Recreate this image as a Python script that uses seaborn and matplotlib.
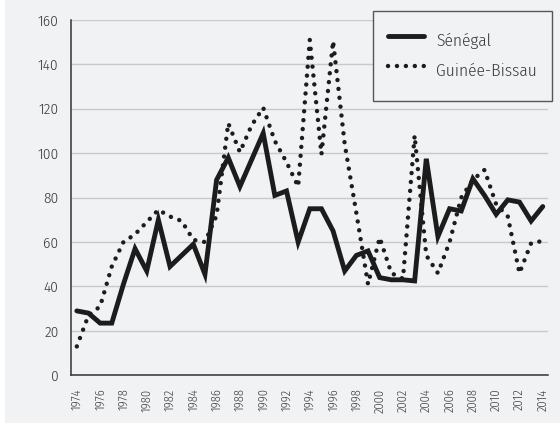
import matplotlib
matplotlib.use("Agg")
import matplotlib.pyplot as plt
import matplotlib.patches as mpatches
import seaborn as sns
import numpy as np

years = list(range(1974, 2015))
senegal = [29, 28, 23.5, 23.5, 41, 57, 47, 70, 49, 54, 59, 45.5, 88, 98, 85, 97,
           109, 81, 83, 60, 75, 75, 65, 47, 54, 56, 44, 43, 43, 42.5, 97.5, 62.5,
           75, 74, 88.5, 81, 72.5, 79, 78, 69.5, 76]
guinee_bissau = [13, 27, 31, 49, 60, 63.5, 69, 74.5, 71.5, 69.5, 61, 60, 72, 113.5,
                 100.5, 112.5, 120.5, 105.5, 96, 85, 151, 99.5, 150.5, 104, 73, 41,
                 62, 46, 43.5, 108, 54, 46, 60, 80, 88, 92.5, 77, 71.5, 46, 59.5, 60.5]
series_names = ["Sénégal", "Guinée-Bissau"]
y_ticks = [0, 20, 40, 60, 80, 100, 120, 140, 160]
x_label_years = list(range(1974, 2015, 2))

sns.set_style("white")
plt.rcParams['font.family'] = ['Fira Sans Condensed', 'DejaVu Sans']
plt.rcParams['font.weight'] = 300

BG = "#f1f2f4"
TXT = "#3a3a3a"
LINE = "#1c1c1c"

fig = plt.figure(figsize=(5.6, 4.3), dpi=100, facecolor="white")
bg_rect = mpatches.Rectangle((5/560, 7/430), 1 - 5/560, 1 - 7/430,
                             transform=fig.transFigure, facecolor=BG,
                             edgecolor="none", zorder=-10)
fig.patches.append(bg_rect)
ax = fig.add_axes([71/560, 1 - 375.3/430, (548 - 71)/560, (375.3 - 20)/430])
ax.set_facecolor(BG)

sns.lineplot(x=years, y=senegal, ax=ax, color=LINE, linewidth=3.5,
             solid_joinstyle="miter", label=series_names[0], zorder=3)
sns.lineplot(x=years, y=guinee_bissau, ax=ax, color=LINE, linewidth=3.2,
             linestyle=(0, (0.01, 2.0)), dash_capstyle="round",
             label=series_names[1], zorder=4)

ax.set_xlim(1973.5, 2014.45)
ax.set_ylim(0, 160)
ax.set_yticks(y_ticks)
ax.set_yticklabels([str(v) for v in y_ticks], fontsize=11, color=TXT)
ax.set_xticks(years)
ax.set_xticklabels([str(y) if y in x_label_years else "" for y in years],
                   rotation=90, fontsize=9, color=TXT)
ax.tick_params(axis="y", direction="out", length=5, width=1, color="#333333", pad=4)
ax.tick_params(axis="x", direction="out", length=4.5, width=1, color="#333333", pad=5)
ax.grid(axis="y", color="#c9c9c9", linewidth=1)
ax.grid(axis="x", visible=False)
ax.set_axisbelow(True)
for s in ["top", "right"]:
    ax.spines[s].set_visible(False)
for s in ["left", "bottom"]:
    ax.spines[s].set_color("#333333")
    ax.spines[s].set_linewidth(1.1)
ax.set_xlabel("")
ax.set_ylabel("")

leg = ax.legend(loc="upper left", bbox_to_anchor=(373/560, 1 - 11/430),
                bbox_transform=fig.transFigure, fontsize=12.5, frameon=True,
                fancybox=False, borderpad=0.85, handleheight=2.3, labelspacing=0,
                handlelength=2.1, handletextpad=0.7, borderaxespad=0)
leg.get_frame().set_facecolor(BG)
leg.get_frame().set_edgecolor("#555555")
leg.get_frame().set_linewidth(1.0)
leg.get_frame().set_alpha(1)
for t in leg.get_texts():
    t.set_color(TXT)

fig.savefig("out.png", dpi=100, facecolor=fig.get_facecolor())
